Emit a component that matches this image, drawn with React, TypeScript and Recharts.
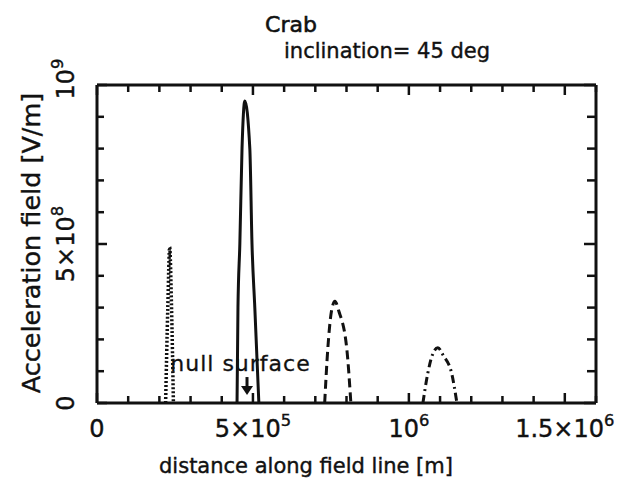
import React from 'react';
import { LineChart, Line, XAxis, YAxis, ReferenceDot } from 'recharts';

// distance along field line [m] and acceleration field [V/m]
const dottedX = [2.2e5, 2.27e5, 2.33e5, 2.39e5, 2.45e5];
const dottedY = [0, 3.0e8, 4.9e8, 3.0e8, 0];

const solidX = [4.49e5, 4.52e5, 4.58e5, 4.65e5, 4.74e5, 4.9e5, 4.97e5, 5.06e5, 5.19e5];
const solidY = [0, 3.0e8, 5.0e8, 8.0e8, 9.5e8, 8.0e8, 5.0e8, 3.0e8, 0];

const dashedX = [7.3e5, 7.4e5, 7.52e5, 7.63e5, 7.75e5, 8.01e5, 8.14e5];
const dashedY = [0, 1.7e8, 2.9e8, 3.2e8, 2.9e8, 1.7e8, 0];

const dashDotX = [1.045e6, 1.06e6, 1.075e6, 1.093e6, 1.11e6, 1.138e6, 1.154e6];
const dashDotY = [0, 0.9e8, 1.5e8, 1.74e8, 1.5e8, 0.9e8, 0];

const xTicks = [0, 1e5, 2e5, 3e5, 4e5, 5e5, 6e5, 7e5, 8e5, 9e5, 1e6, 1.1e6, 1.2e6, 1.3e6, 1.4e6, 1.5e6, 1.6e6];
const yTicks = [0, 1e8, 2e8, 3e8, 4e8, 5e8, 6e8, 7e8, 8e8, 9e8, 1e9];

// label text: [base, superscript]
const xLabels: Record<number, [string, string]> = {
  0: ['0', ''],
  500000: ['5×10', '5'],
  1000000: ['10', '6'],
  1500000: ['1.5×10', '6'],
};
const yLabels: Record<number, [string, string]> = {
  0: ['0', ''],
  500000000: ['5×10', '8'],
  1000000000: ['10', '9'],
};

const nullArrowX = 4.81e5;
const nullArrowY = 0.25e8;
const nullTextX = 2.35e5;
const nullTextY = 1.0e8;

const pts = (xs: number[], ys: number[]) => xs.map((x, i) => ({ x, y: ys[i] }));

const FONT = '"DejaVu Sans", sans-serif';
const INK = '#111';

const Label = ({ base, sup, size }: { base: string; sup: string; size: number }) => (
  <>
    <tspan>{base}</tspan>
    {sup && (
      <tspan dy={-size * 0.45} fontSize={size * 0.68}>
        {sup}
      </tspan>
    )}
  </>
);

const BottomTick = (props: any) => {
  const { x, y, payload } = props;
  const lab = xLabels[payload.value];
  const len = lab ? 10 : 7;
  return (
    <g>
      <line x1={x} y1={y} x2={x} y2={y - len} stroke={INK} strokeWidth={2.5} />
      {lab && (
        <text x={x} y={y + 34} textAnchor="middle" fontSize={24} fontFamily={FONT} fill={INK} stroke={INK} strokeWidth={0.4}>
          <Label base={lab[0]} sup={lab[1]} size={24} />
        </text>
      )}
    </g>
  );
};

const TopTick = (props: any) => {
  const { x, y, payload } = props;
  const len = xLabels[payload.value] ? 10 : 7;
  return <line x1={x} y1={y} x2={x} y2={y + len} stroke={INK} strokeWidth={2.5} />;
};

const LeftTick = (props: any) => {
  const { x, y, payload } = props;
  const lab = yLabels[payload.value];
  const len = lab ? 10 : 7;
  const tx = x - 23;
  const cy = payload.value === 1e9 ? y - 6 : y;
  return (
    <g>
      <line x1={x} y1={y} x2={x + len} y2={y} stroke={INK} strokeWidth={2.5} />
      {lab && (
        <text
          x={tx}
          y={cy}
          transform={`rotate(-90, ${tx}, ${cy})`}
          textAnchor="middle"
          fontSize={24}
          fontFamily={FONT}
          fill={INK}
          stroke={INK}
          strokeWidth={0.4}
        >
          <Label base={lab[0]} sup={lab[1]} size={24} />
        </text>
      )}
    </g>
  );
};

const RightTick = (props: any) => {
  const { x, y, payload } = props;
  const len = yLabels[payload.value] ? 12 : 9;
  return <line x1={x} y1={y} x2={x - len} y2={y} stroke={INK} strokeWidth={2.5} />;
};

const NullArrow = (props: any) => {
  const { cx, cy } = props;
  return (
    <g>
      <line x1={cx} y1={cy - 18} x2={cx} y2={cy - 7} stroke={INK} strokeWidth={3} />
      <polygon points={`${cx - 6},${cy - 9} ${cx + 6},${cy - 9} ${cx},${cy}`} fill={INK} />
    </g>
  );
};

const NullText = (props: any) => {
  const { cx, cy } = props;
  return (
    <text x={cx} y={cy} fontSize={22} letterSpacing={1} fontFamily={FONT} fill={INK} stroke={INK} strokeWidth={0.3}>
      null surface
    </text>
  );
};

export default function App() {
  const axisLine = { stroke: INK, strokeWidth: 3 };
  return (
    <div style={{ position: 'absolute', left: 0, top: 0, width: 621, height: 496, background: '#fff' }}>
      <LineChart width={621} height={496} margin={{ top: 84, right: 24, bottom: 0, left: 0 }}>
        <XAxis
          dataKey="x"
          type="number"
          domain={[0, 1.6e6]}
          ticks={xTicks}
          interval={0}
          height={93}
          axisLine={axisLine}
          tickLine={false}
          tickSize={0}
          tickMargin={0}
          tick={<BottomTick />}
          allowDataOverflow
        />
        <XAxis
          xAxisId="top"
          dataKey="x"
          orientation="top"
          type="number"
          domain={[0, 1.6e6]}
          ticks={xTicks}
          interval={0}
          height={1}
          axisLine={axisLine}
          tickLine={false}
          tickSize={0}
          tickMargin={0}
          tick={<TopTick />}
          allowDataOverflow
        />
        <YAxis
          type="number"
          domain={[0, 1e9]}
          ticks={yTicks}
          interval={0}
          width={97}
          axisLine={axisLine}
          tickLine={false}
          tickSize={0}
          tickMargin={0}
          tick={<LeftTick />}
          allowDataOverflow
        />
        <YAxis
          yAxisId="right"
          orientation="right"
          type="number"
          domain={[0, 1e9]}
          ticks={yTicks}
          interval={0}
          width={1}
          axisLine={axisLine}
          tickLine={false}
          tickSize={0}
          tickMargin={0}
          tick={<RightTick />}
          allowDataOverflow
        />
        <Line
          data={pts(dottedX, dottedY)}
          dataKey="y"
          type="monotone"
          stroke={INK}
          strokeWidth={3.5}
          strokeDasharray="2 2"
          dot={false}
          isAnimationActive={false}
        />
        <Line
          data={pts(solidX, solidY)}
          dataKey="y"
          type="monotone"
          stroke={INK}
          strokeWidth={3}
          dot={false}
          isAnimationActive={false}
        />
        <Line
          data={pts(dashedX, dashedY)}
          dataKey="y"
          type="monotone"
          stroke={INK}
          strokeWidth={3}
          strokeDasharray="9 5"
          dot={false}
          isAnimationActive={false}
        />
        <Line
          data={pts(dashDotX, dashDotY)}
          dataKey="y"
          type="monotone"
          stroke={INK}
          strokeWidth={3}
          strokeDasharray="8 4 2 4"
          dot={false}
          isAnimationActive={false}
        />
        <Line
          data={pts(dashDotX, dashDotY)}
          dataKey="y"
          xAxisId="top"
          yAxisId="right"
          stroke="none"
          dot={false}
          activeDot={false}
          isAnimationActive={false}
        />
        <ReferenceDot x={nullArrowX} y={nullArrowY} shape={<NullArrow />} />
        <ReferenceDot x={nullTextX} y={nullTextY} shape={<NullText />} />
      </LineChart>
      <svg
        width={621}
        height={496}
        style={{ position: 'absolute', left: 0, top: 0, pointerEvents: 'none' }}
        fontFamily={FONT}
        fill={INK}
        stroke={INK}
        strokeWidth={0.4}
      >
        <text x={291} y={32} textAnchor="middle" fontSize={22} strokeWidth={0.6}>
          Crab
        </text>
        <text x={490} y={58} textAnchor="end" fontSize={21}>
          inclination= 45 deg
        </text>
        <text x={306} y={473} textAnchor="middle" fontSize={21}>
          distance along field line [m]
        </text>
        <text x={40} y={243} textAnchor="middle" fontSize={25.5} transform="rotate(-90, 40, 243)">
          Acceleration field [V/m]
        </text>
      </svg>
    </div>
  );
}
